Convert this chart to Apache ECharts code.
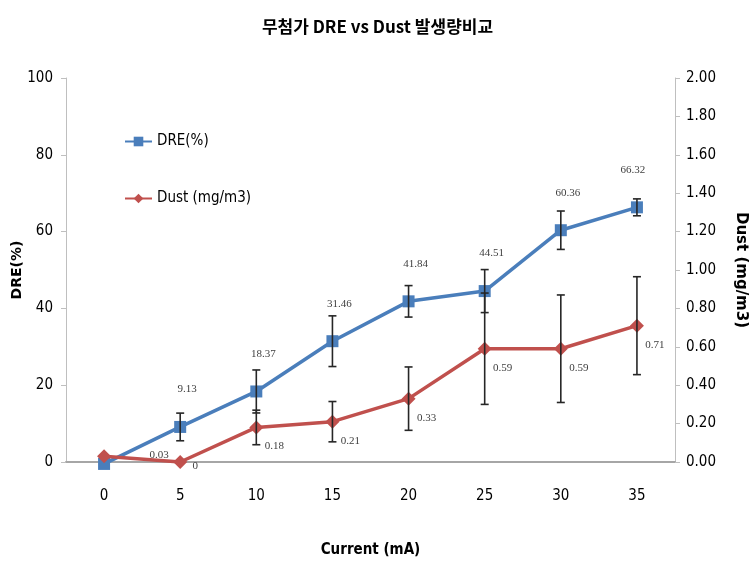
<!DOCTYPE html>
<html><head><meta charset="utf-8">
<script src="https://cdn.jsdelivr.net/npm/echarts@6/dist/echarts.min.js"></script>
<style>html,body{margin:0;padding:0;background:#fff}#c{width:755px;height:567px}</style>
</head><body><div id="c"></div>
<script>
var categories = ['0','5','10','15','20','25','30','35'];
var dreValues = [-0.5, 9.13, 18.37, 31.46, 41.84, 44.51, 60.36, 66.32];
var dreErr = [0, 3.6, 5.6, 6.6, 4.1, 5.6, 5.0, 2.2];
var dustValues = [0.03, 0, 0.18, 0.21, 0.33, 0.59, 0.59, 0.71];
var dustErr = [0, 0, 0.09, 0.105, 0.165, 0.29, 0.28, 0.255];
var dreLabels = ['', '9.13', '18.37', '31.46', '41.84', '44.51', '60.36', '66.32'];
var dustLabels = ['0.03', '0', '0.18', '0.21', '0.33', '0.59', '0.59', '0.71'];
var leftTicks = [0, 20, 40, 60, 80, 100];
var rightTicks = [0, 0.2, 0.4, 0.6, 0.8, 1.0, 1.2, 1.4, 1.6, 1.8, 2.0];

var chart = echarts.init(document.getElementById('c'), null, {renderer:'canvas'});
var numFont = '"Liberation Sans Narrow", "DejaVu Sans Condensed", "Noto Sans", sans-serif';
var labelFont = '"Liberation Serif", "DejaVu Serif", serif';

function errSeries(name, vals, errs, axisIdx) {
  return {
    name: name, type: 'custom', yAxisIndex: axisIdx, z: 10, silent: true,
    data: vals.map(function(v, i){ return [i, v - errs[i], v + errs[i], errs[i]]; }),
    renderItem: function(params, api) {
      if (api.value(3) <= 0) return null;
      var lo = api.coord([api.value(0), api.value(1)]);
      var hi = api.coord([api.value(0), api.value(2)]);
      var x = lo[0], cw = 4;
      var st = {stroke: '#262626', lineWidth: 1.6};
      return {type: 'group', children: [
        {type: 'line', shape: {x1: x, y1: lo[1], x2: x, y2: hi[1]}, style: st},
        {type: 'line', shape: {x1: x - cw, y1: lo[1], x2: x + cw, y2: lo[1]}, style: st},
        {type: 'line', shape: {x1: x - cw, y1: hi[1], x2: x + cw, y2: hi[1]}, style: st}
      ]};
    }
  };
}

var option = {
  animation: false,
  backgroundColor: '#fff',
  title: {
    text: '무첨가 DRE vs Dust 발생량비교', left: 'center', top: 13,
    textStyle: {fontFamily: '"Noto Sans CJK KR", sans-serif', fontSize: 17, fontWeight: 'bold', color: '#000'}
  },
  legend: {
    orient: 'vertical', left: 119, top: 129, itemGap: 42, itemWidth: 27, itemHeight: 12,
    data: ['DRE(%)', 'Dust (mg/m3)'],
    textStyle: {fontFamily: numFont, fontSize: 15, color: '#000'}
  },
  grid: {left: 66, right: 80, top: 78, bottom: 105, containLabel: false, outerBoundsMode: 'none'},
  xAxis: {
    type: 'category', data: categories, boundaryGap: true,
    name: 'Current (mA)', nameLocation: 'middle', nameGap: 81, nameMoveOverlap: false,
    nameTextStyle: {fontFamily: numFont, fontSize: 15, fontWeight: 'bold', color: '#000'},
    axisLine: {lineStyle: {color: '#a6a6a6', width: 2}},
    axisTick: {show: false},
    axisLabel: {margin: 27, fontFamily: numFont, fontSize: 15, color: '#000'}
  },
  yAxis: [{
    type: 'value', min: 0, max: 100, interval: 20, position: 'left',
    name: 'DRE(%)', nameLocation: 'middle', nameGap: 42, nameRotate: 90, nameMoveOverlap: false,
    nameTextStyle: {fontFamily: '"DejaVu Sans", sans-serif', fontSize: 14, fontWeight: 'bold', color: '#000'},
    axisLine: {show: true, lineStyle: {color: '#bfbfbf', width: 1}},
    axisTick: {show: true, length: 5, lineStyle: {color: '#bfbfbf'}},
    splitLine: {show: false},
    axisLabel: {margin: 13, fontFamily: numFont, fontSize: 15, color: '#000'}
  }, {
    type: 'value', min: 0, max: 2, interval: 0.2, position: 'right',
    name: 'Dust (mg/m3)', nameLocation: 'middle', nameGap: 58, nameRotate: -90, nameMoveOverlap: false,
    nameTextStyle: {fontFamily: '"DejaVu Sans", sans-serif', fontSize: 15, fontWeight: 'bold', color: '#000'},
    axisLine: {show: true, lineStyle: {color: '#bfbfbf', width: 1}},
    axisTick: {show: true, length: 5, lineStyle: {color: '#bfbfbf'}},
    splitLine: {show: false},
    axisLabel: {margin: 11, fontFamily: numFont, fontSize: 15, color: '#000',
      formatter: function(v){ return v.toFixed(2); }}
  }],
  series: [{
    name: 'DRE(%)', type: 'line', yAxisIndex: 0, z: 3, clip: false,
    data: dreValues.map(function(v, i){
      var d = {value: v, label: {formatter: dreLabels[i]}};
      if (i === 7) d.label.offset = [-4, -4];
      return d;
    }),
    symbol: 'rect', symbolSize: 12,
    lineStyle: {color: '#4a7ebb', width: 3.5},
    itemStyle: {color: '#4a7ebb'},
    label: {show: true, position: 'top', distance: 22, offset: [7, -4],
      fontFamily: labelFont, fontSize: 11, color: '#404040'}
  }, {
    name: 'Dust (mg/m3)', type: 'line', yAxisIndex: 1, z: 4, clip: false,
    data: dustValues.map(function(v, i){
      var d = {value: v, label: {formatter: dustLabels[i]}};
      if (i === 0) d.label.offset = [55, -1];
      if (i === 1) d.label.offset = [15, 4];
      return d;
    }),
    symbol: 'diamond', symbolSize: 14,
    lineStyle: {color: '#c0504d', width: 3.5},
    itemStyle: {color: '#c0504d'},
    label: {show: true, position: 'inside', offset: [18, 19],
      fontFamily: labelFont, fontSize: 11, color: '#404040'}
  },
  errSeries('dreErr', dreValues, dreErr, 0),
  errSeries('dustErr', dustValues, dustErr, 1)
  ]
};
chart.setOption(option);
</script></body></html>
